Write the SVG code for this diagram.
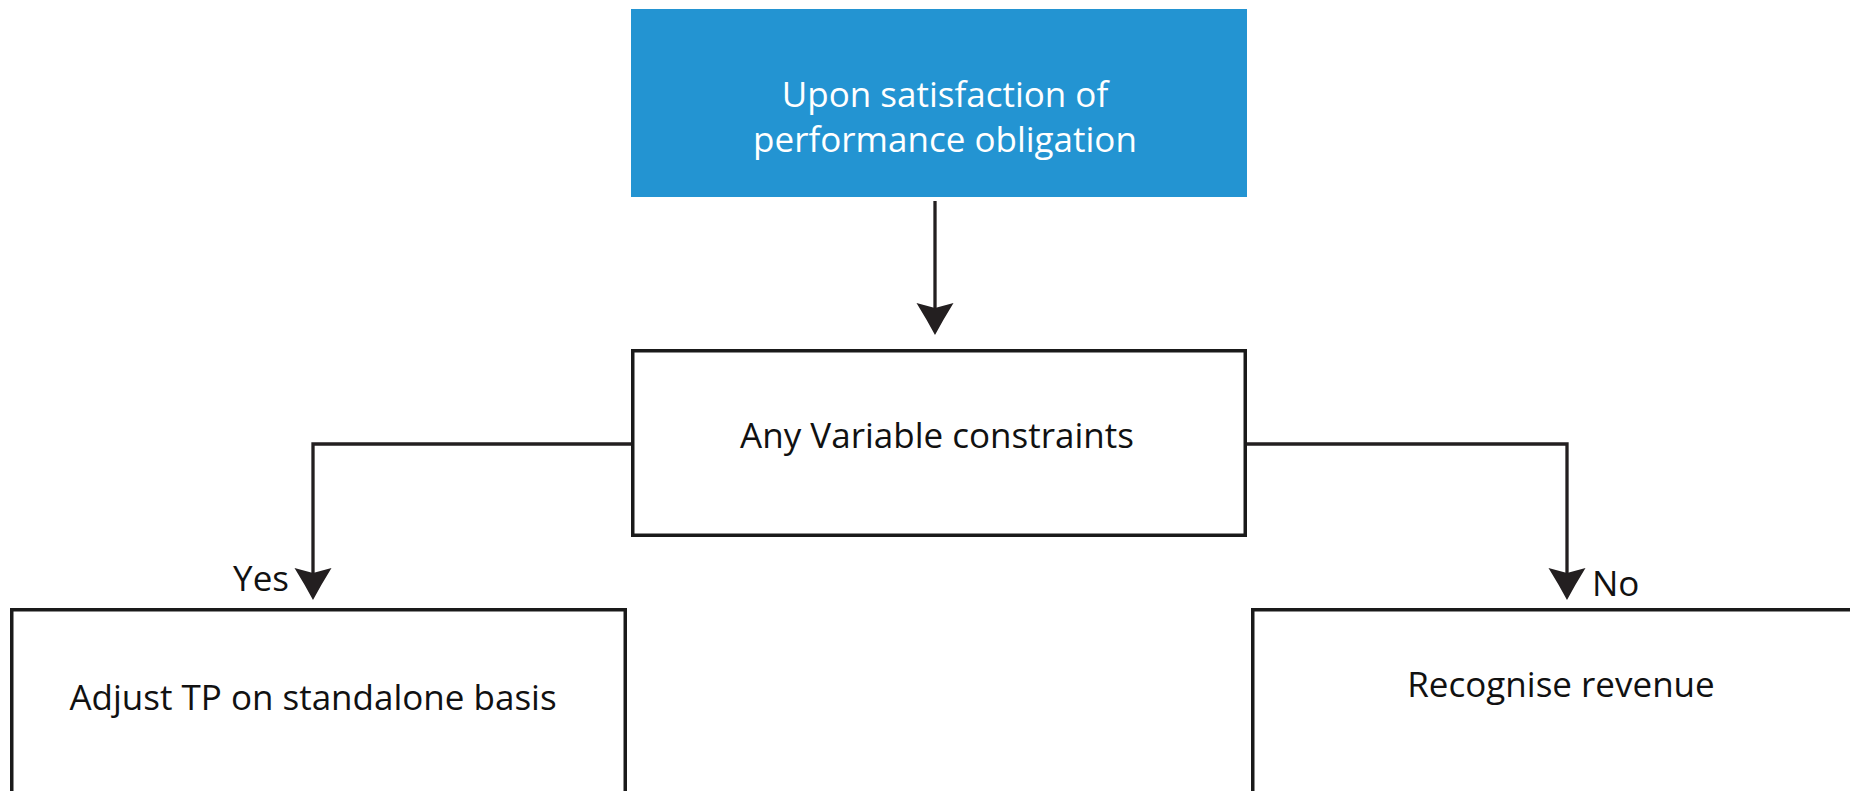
<svg xmlns="http://www.w3.org/2000/svg" width="1850" height="791" viewBox="0 0 1850 791">
  <style>
    .box { fill: #ffffff; stroke: #1a1a1a; stroke-width: 3.5; }
    .blue { fill: #2394d2; stroke: none; }
    .lbl { font-family: "Open Sans", "Noto Sans", sans-serif; font-size: 35px; fill: #111111; }
    .wlbl { font-family: "Open Sans", "Noto Sans", sans-serif; font-size: 35px; fill: #ffffff; }
    .conn { fill: none; stroke: #231f20; stroke-width: 3.3; }
  </style>
  <defs>
    <marker id="ah" markerUnits="userSpaceOnUse" markerWidth="40" markerHeight="44" viewBox="-34 -22 38 44" refX="-27" refY="0" orient="auto">
      <path d="M0,0 Q-15,-8 -32,-18.5 L-27,0 L-32,18.5 Q-15,8 0,0 Z" fill="#231f20"/>
    </marker>
  </defs>
  <rect width="1850" height="791" fill="#ffffff"/>

  <g id="node-top">
    <rect class="blue" x="631" y="9" width="616" height="188"/>
    <text class="wlbl" x="945" y="107" text-anchor="middle">Upon satisfaction of</text>
    <text class="wlbl" x="945" y="152" text-anchor="middle">performance obligation</text>
  </g>

  <g id="node-decision">
    <rect class="box" x="632.75" y="350.75" width="612.5" height="184.5"/>
    <text class="lbl" x="937" y="448" text-anchor="middle">Any Variable constraints</text>
  </g>

  <g id="node-yes">
    <rect class="box" x="11.75" y="609.75" width="613.5" height="200"/>
    <text class="lbl" x="313" y="710" text-anchor="middle">Adjust TP on standalone basis</text>
  </g>

  <g id="node-no">
    <rect class="box" x="1252.75" y="609.75" width="640" height="200"/>
    <text class="lbl" x="1561" y="697" text-anchor="middle">Recognise revenue</text>
  </g>

  <g id="connectors">
    <path class="conn" d="M935,201 L935,308" marker-end="url(#ah)"/>
    <path class="conn" d="M631,444 L313,444 L313,573" marker-end="url(#ah)"/>
    <path class="conn" d="M1247,444 L1567,444 L1567,573" marker-end="url(#ah)"/>
    <text class="lbl" x="289" y="591" text-anchor="end">Yes</text>
    <text class="lbl" x="1592" y="596">No</text>
  </g>
</svg>
